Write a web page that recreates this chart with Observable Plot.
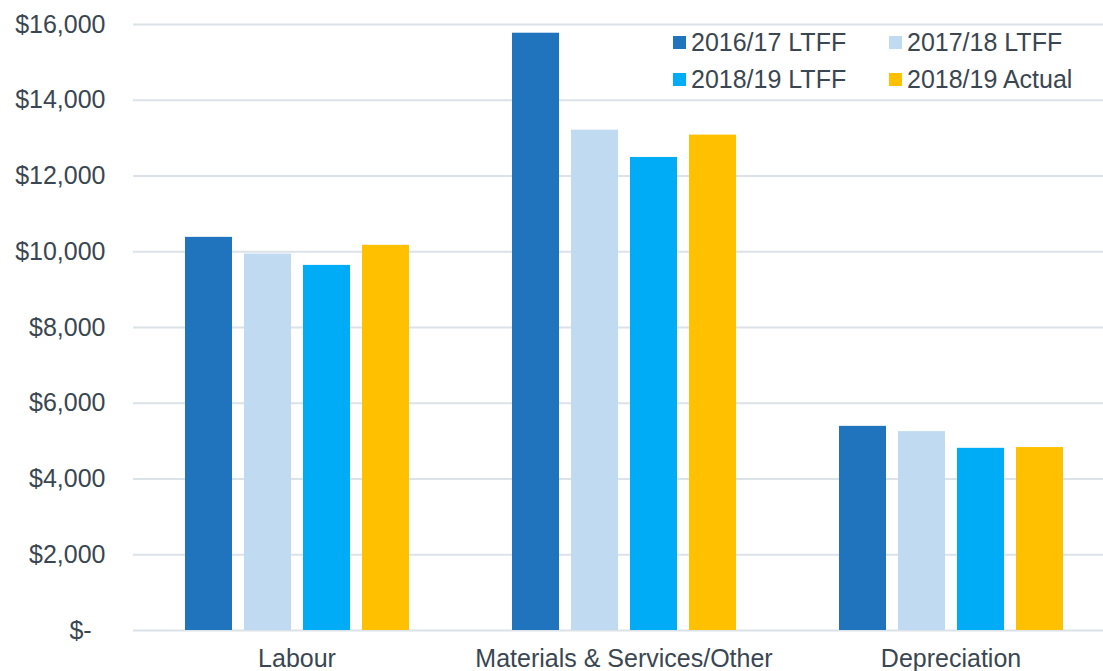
<!DOCTYPE html>
<html>
<head>
<meta charset="utf-8">
<script src="https://cdn.jsdelivr.net/npm/d3@7"></script>
<script src="https://cdn.jsdelivr.net/npm/@observablehq/plot@0.6"></script>
<style>
  html, body { margin: 0; padding: 0; background: #fff; }
  #wrap { position: relative; width: 1103px; height: 671px; overflow: hidden; font-family: "Liberation Sans", Arial, sans-serif; }
  #chart svg { max-width: none !important; }
  #legend { position: absolute; left: 673px; top: 29px; display: grid; grid-template-columns: 216px 200px; row-gap: 10px; color: #3a4651; font-size: 25px; }
  .item { display: flex; align-items: center; height: 27px; white-space: nowrap; }
  .sw { width: 13px; height: 13px; margin-right: 5px; flex: none; }
</style>
</head>
<body>
<div id="wrap"><div id="chart"></div><div id="legend"></div></div>
<script>
const categories = ["Labour", "Materials & Services/Other", "Depreciation"];
const series = ["2016/17 LTFF", "2017/18 LTFF", "2018/19 LTFF", "2018/19 Actual"];
const labour = [10380, 9940, 9640, 10170];
const materials = [15770, 13210, 12490, 13080];
const depreciation = [5390, 5250, 4810, 4830];
const colors = ["#1f74bd", "#bfdaf1", "#00acf6", "#ffc000"];
const yTicks = [0, 2000, 4000, 6000, 8000, 10000, 12000, 14000, 16000];

const seriesValues = [labour, materials, depreciation];
const data = [];
categories.forEach((c, i) => series.forEach((s, j) => data.push({category: c, series: s, value: seriesValues[i][j]})));

const textColor = "#3a4651";
const fmt = v => v === 0 ? "$-\u00a0\u00a0" : "$" + d3.format(",")(v);

const chart = Plot.plot({
  width: 1114,
  height: 671,
  marginLeft: 132,
  marginRight: 0,
  marginTop: 24,
  marginBottom: 41,
  style: {fontFamily: "'Liberation Sans', Arial, sans-serif", fontSize: "25px", color: textColor, background: "#fff", maxWidth: "none"},
  fx: {domain: categories, padding: 0, label: null},
  x: {domain: series, paddingInner: 0.21, paddingOuter: 0.86, axis: null},
  y: {domain: [0, 16000], axis: null},
  color: {domain: series, range: colors},
  marks: [
    Plot.ruleY(yTicks, {stroke: "#dbe2e8", strokeWidth: 2}),
    Plot.barY(data, {fx: "category", x: "series", y: "value", fill: "series"}),
    Plot.axisY(yTicks, {tickSize: 0, tickPadding: 28, tickFormat: fmt, fontSize: 25, fill: textColor, label: null}),
    Plot.axisFx({anchor: "bottom", tickSize: 0, tickPadding: 19, fontSize: 25, fill: textColor, label: null})
  ]
});
document.getElementById("chart").appendChild(chart);

const legend = document.getElementById("legend");
series.forEach((s, i) => {
  const it = document.createElement("div");
  it.className = "item";
  const sw = document.createElement("span");
  sw.className = "sw";
  sw.style.background = colors[i];
  const t = document.createElement("span");
  t.textContent = s;
  it.appendChild(sw); it.appendChild(t);
  legend.appendChild(it);
});
</script>
</body>
</html>
